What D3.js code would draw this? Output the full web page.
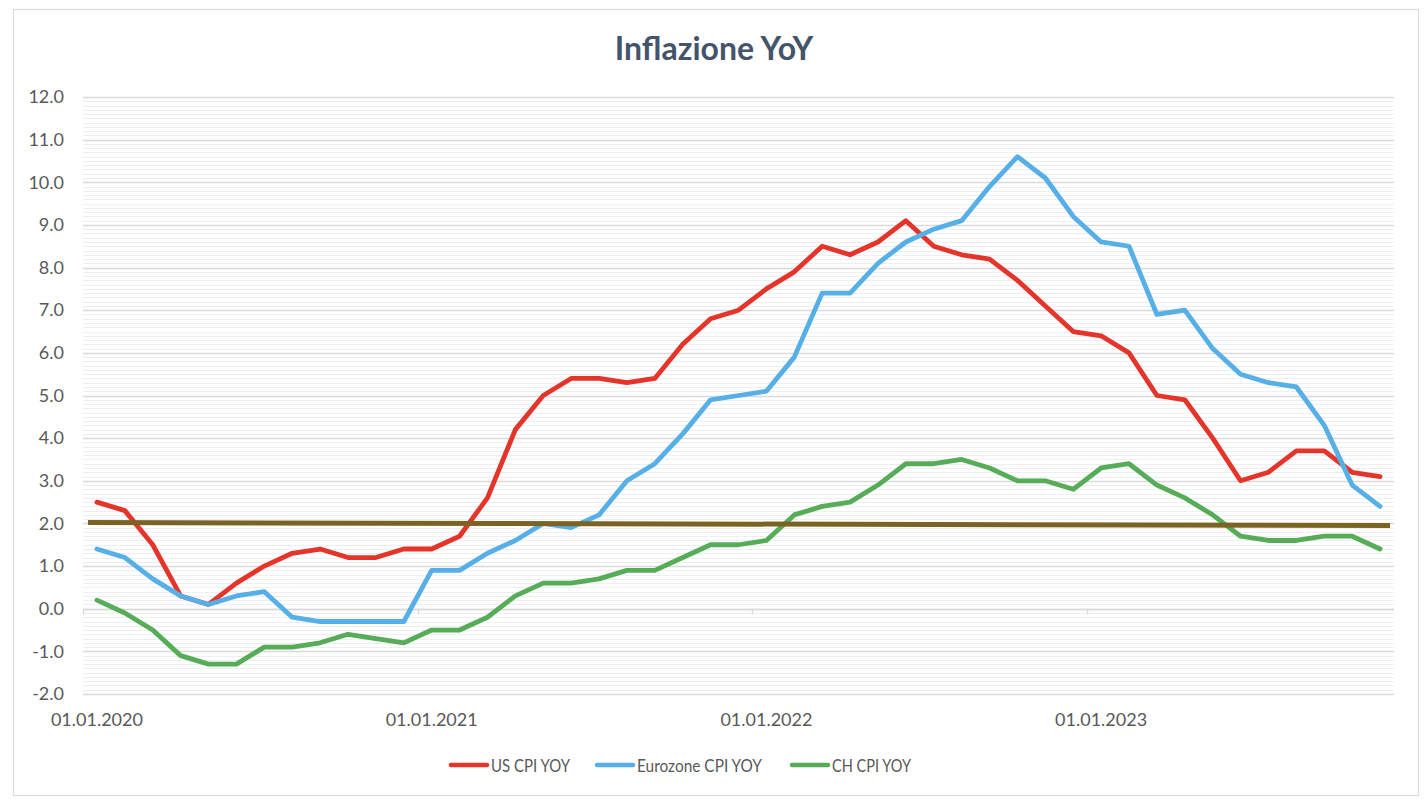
<!DOCTYPE html>
<html>
<head>
<meta charset="utf-8">
<script src="https://cdn.jsdelivr.net/npm/d3@7"></script>
<style>
  html, body { margin: 0; padding: 0; background: #ffffff; }
  svg { display: block; }
</style>
</head>
<body>
<svg id="chart" width="1428" height="806"></svg>
<script>
// ---------- DATA ----------
const months = [
  "01.01.2020","01.02.2020","01.03.2020","01.04.2020","01.05.2020","01.06.2020",
  "01.07.2020","01.08.2020","01.09.2020","01.10.2020","01.11.2020","01.12.2020",
  "01.01.2021","01.02.2021","01.03.2021","01.04.2021","01.05.2021","01.06.2021",
  "01.07.2021","01.08.2021","01.09.2021","01.10.2021","01.11.2021","01.12.2021",
  "01.01.2022","01.02.2022","01.03.2022","01.04.2022","01.05.2022","01.06.2022",
  "01.07.2022","01.08.2022","01.09.2022","01.10.2022","01.11.2022","01.12.2022",
  "01.01.2023","01.02.2023","01.03.2023","01.04.2023","01.05.2023","01.06.2023",
  "01.07.2023","01.08.2023","01.09.2023","01.10.2023","01.11.2023"
];
const usCPI = [2.5,2.3,1.5,0.3,0.1,0.6,1.0,1.3,1.4,1.2,1.2,1.4,
               1.4,1.7,2.6,4.2,5.0,5.4,5.4,5.3,5.4,6.2,6.8,7.0,
               7.5,7.9,8.5,8.3,8.6,9.1,8.5,8.3,8.2,7.7,7.1,6.5,
               6.4,6.0,5.0,4.9,4.0,3.0,3.2,3.7,3.7,3.2,3.1];
const euroCPI = [1.4,1.2,0.7,0.3,0.1,0.3,0.4,-0.2,-0.3,-0.3,-0.3,-0.3,
                 0.9,0.9,1.3,1.6,2.0,1.9,2.2,3.0,3.4,4.1,4.9,5.0,
                 5.1,5.9,7.4,7.4,8.1,8.6,8.9,9.1,9.9,10.6,10.1,9.2,
                 8.6,8.5,6.9,7.0,6.1,5.5,5.3,5.2,4.3,2.9,2.4];
const chCPI = [0.2,-0.1,-0.5,-1.1,-1.3,-1.3,-0.9,-0.9,-0.8,-0.6,-0.7,-0.8,
               -0.5,-0.5,-0.2,0.3,0.6,0.6,0.7,0.9,0.9,1.2,1.5,1.5,
               1.6,2.2,2.4,2.5,2.9,3.4,3.4,3.5,3.3,3.0,3.0,2.8,
               3.3,3.4,2.9,2.6,2.2,1.7,1.6,1.6,1.7,1.7,1.4];
const targetLine = [2.02, 1.95];           // 2% reference line (start, end)
const xTickLabels = ["01.01.2020","01.01.2021","01.01.2022","01.01.2023"];
const yTicks = [-2,-1,0,1,2,3,4,5,6,7,8,9,10,11,12];
const seriesNames = ["US CPI YOY","Eurozone CPI YOY","CH CPI YOY"];
const seriesColors = ["#E5352A","#56AFE6","#57AC58"];
const targetColor = "#7B6324";
const title = "Inflazione YoY";

// ---------- LAYOUT ----------
const svg = d3.select("#chart");
const plot = { left: 83, right: 1394, top: 97, bottom: 694 };
const FONT = "Lato, 'Open Sans', sans-serif";

// chart border
svg.append("rect")
  .attr("x", 13.5).attr("y", 9.5)
  .attr("width", 1405).attr("height", 786)
  .attr("fill", "#fff").attr("stroke", "#d9d9d9").attr("stroke-width", 1.2);

// scales
const x = d3.scaleBand().domain(months).range([plot.left, plot.right]).padding(0);
const xc = d => x(d) + x.bandwidth() / 2;
const y = d3.scaleLinear().domain([-2, 12]).range([plot.bottom, plot.top]);

// minor gridlines (0.1 steps)
const minorTicks = d3.range(-20, 121).map(v => v / 10).filter(v => Math.abs(v - Math.round(v)) > 1e-6);
svg.append("g").selectAll("line").data(minorTicks).join("line")
  .attr("x1", plot.left).attr("x2", plot.right)
  .attr("y1", d => Math.round(y(d)) + 0.5).attr("y2", d => Math.round(y(d)) + 0.5)
  .attr("stroke", "#eeeff2").attr("stroke-width", 1);

// major gridlines
svg.append("g").selectAll("line").data(yTicks).join("line")
  .attr("x1", plot.left).attr("x2", plot.right)
  .attr("y1", d => Math.round(y(d)) + 0.5).attr("y2", d => Math.round(y(d)) + 0.5)
  .attr("stroke", "#d9d9d9").attr("stroke-width", 1.3);

// y-axis labels
const fmt = d3.format(".1f");
const yAxis = d3.axisLeft(y).tickValues(yTicks)
  .tickFormat(d => fmt(d).replace("\u2212", "-")).tickSize(0).tickPadding(19);
const gy = svg.append("g").attr("transform", `translate(${plot.left},0)`).call(yAxis);
gy.select(".domain").remove();
gy.selectAll("text").attr("fill", "#595959").style("font-family", FONT).style("font-size", "18px");

// x axis at zero line
const zeroY = Math.round(y(0)) + 0.5;
svg.append("line")
  .attr("x1", plot.left).attr("x2", plot.right)
  .attr("y1", zeroY).attr("y2", zeroY)
  .attr("stroke", "#d9d9d9").attr("stroke-width", 1.3);
// tick marks at year boundaries
svg.append("g").selectAll("line").data(xTickLabels).join("line")
  .attr("x1", d => Math.round(x(d)) + 0.5).attr("x2", d => Math.round(x(d)) + 0.5)
  .attr("y1", zeroY).attr("y2", zeroY + 5)
  .attr("stroke", "#d9d9d9").attr("stroke-width", 1.3);

// x labels at bottom
svg.append("g").selectAll("text").data(xTickLabels).join("text")
  .attr("x", d => xc(d)).attr("y", plot.bottom + 32)
  .attr("text-anchor", "middle")
  .attr("fill", "#595959").style("font-family", FONT).style("font-size", "18px")
  .text(d => d);

// title
svg.append("text")
  .attr("x", 714).attr("y", 60)
  .attr("text-anchor", "middle")
  .attr("fill", "#44546A").style("font-family", FONT).style("font-weight", "bold").style("font-size", "32px")
  .text(title);

// series lines
const line = d3.line().x((d, i) => xc(months[i])).y(d => y(d));
const allSeries = [usCPI, euroCPI, chCPI];
svg.append("g").selectAll("path").data(allSeries).join("path")
  .attr("d", d => line(d))
  .attr("fill", "none")
  .attr("stroke", (d, i) => seriesColors[i])
  .attr("stroke-width", 4.8)
  .attr("stroke-linejoin", "round")
  .attr("stroke-linecap", "round");

// 2% reference line
const xt = d3.scaleLinear().domain([0, targetLine.length - 1]).range([plot.left + 5, plot.right - 4]);
svg.append("path")
  .attr("d", d3.line().x((d, i) => xt(i)).y(d => y(d))(targetLine))
  .attr("fill", "none").attr("stroke", targetColor).attr("stroke-width", 5);

// legend
const legendItems = [
  { name: seriesNames[0], color: seriesColors[0], x: 451, w: 79 },
  { name: seriesNames[1], color: seriesColors[1], x: 597, w: 125 },
  { name: seriesNames[2], color: seriesColors[2], x: 792, w: 79 }
];
const lg = svg.append("g").selectAll("g").data(legendItems).join("g")
  .attr("transform", d => `translate(${d.x},765)`);
lg.append("line").attr("x1", 0).attr("x2", 36).attr("y1", 0).attr("y2", 0)
  .attr("stroke", d => d.color).attr("stroke-width", 4.5).attr("stroke-linecap", "round");
lg.append("text").attr("x", 40).attr("y", 6.5)
  .attr("textLength", d => d.w).attr("lengthAdjust", "spacingAndGlyphs")
  .attr("fill", "#595959").style("font-family", FONT).style("font-size", "18px")
  .text(d => d.name);
</script>
</body>
</html>
